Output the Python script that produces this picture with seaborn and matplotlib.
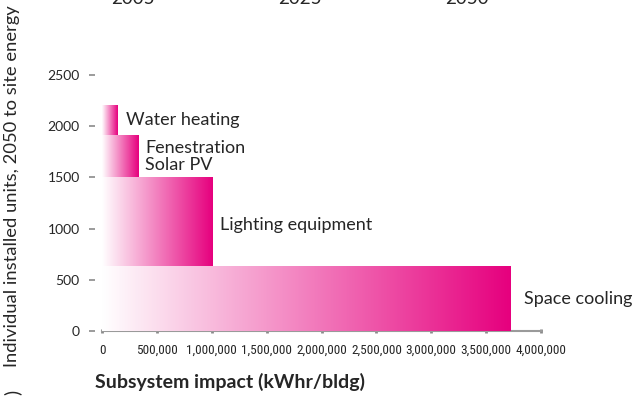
import numpy as np
import matplotlib.pyplot as plt
import seaborn as sns
from matplotlib.colors import LinearSegmentedColormap

# --------------------------
# DATA
# --------------------------
subsystems = ['Space cooling', 'Lighting equipment', 'Fenestration\nSolar PV', 'Water heating']
impact = [3720000, 1010000, 330000, 140000]      # kWhr/bldg
units = [630, 870, 410, 300]                      # installed units (stacked)
x_ticks = [0, 500000, 1000000, 1500000, 2000000, 2500000, 3000000, 3500000, 4000000]
y_ticks = [0, 500, 1000, 1500, 2000, 2500]
years = ['2005', '2025', '2050']

# --------------------------
# STYLE
# --------------------------
sns.set_style('white')
plt.rcParams['font.family'] = ['Lato', 'DejaVu Sans']
magenta = '#E6007E'
grad_cmap = LinearSegmentedColormap.from_list('wm', ['#ffffff', magenta])

fig = plt.figure(figsize=(6.4, 3.96), dpi=100)
ax = fig.add_axes([102 / 640, 65 / 396, 439 / 640, 256 / 396])

# --------------------------
# BARS (gradient filled)
# --------------------------
bottoms = np.concatenate([[0], np.cumsum(units)[:-1]])
gradient = np.linspace(0, 1, 256).reshape(1, -1)
for w, h, b in zip(impact, units, bottoms):
    bar = ax.bar(0, h, width=w, bottom=b, align='edge', color='none', linewidth=0)[0]
    im = ax.imshow(gradient, extent=[0, w, b, b + h], cmap=grad_cmap,
                   aspect='auto', interpolation='bicubic', zorder=2)
    im.set_clip_path(bar)

# labels right of each bar
offsets = [(10, 0), (5, -2), (5, 0), (6.5, 0)]
for name, w, h, b, off in zip(subsystems, impact, units, bottoms, offsets):
    ax.annotate(name, xy=(w, b + h / 2), xytext=off, textcoords='offset points',
                ha='left', va='center', fontsize=13, linespacing=1.1)

# --------------------------
# AXES
# --------------------------
ax.set_xlim(0, 4000000)
ax.set_ylim(0, 2500)
ax.set_xticks(x_ticks)
ax.set_xticklabels(['{:,}'.format(v) for v in x_ticks],
                   family=['Roboto Condensed', 'Liberation Sans Narrow', 'DejaVu Sans'],
                   stretch='condensed', fontsize=9.5)
ax.set_yticks(y_ticks)
ax.set_yticklabels([str(v) for v in y_ticks], fontsize=15)

for s in ['top', 'right']:
    ax.spines[s].set_visible(False)
ax.spines['left'].set_visible(False)
ax.spines['left'].set_position(('outward', 5))
ax.spines['bottom'].set_color('#9a9a9a')
ax.spines['bottom'].set_linewidth(1.5)
ax.spines['bottom'].set_zorder(1)

ax.tick_params(axis='y', length=4, width=1.2, color='#8a8a8a', pad=7, left=True)
ax.tick_params(axis='x', direction='inout', length=3, width=2, color='#8a8a8a', pad=8, bottom=True)

fig.text(95 / 640, 1 - 382 / 396, 'Subsystem impact (kWhr/bldg)',
         fontsize=14, fontweight='bold', ha='left', va='center')
fig.text(12 / 640, 1 - 367 / 396, 'Individual installed units, 2050 to site energy',
         rotation=90, fontsize=13.2, ha='center', va='bottom')
fig.text(12 / 640, 1 - 389 / 396, '(c)', rotation=90, fontsize=13.5, ha='center', va='top')

# year headers cut off at the top
for yr, xc in zip(years, [133, 300, 467]):
    fig.text(xc / 640, 1 - 4 / 396, yr, fontsize=13.5, ha='center', va='baseline')

fig.savefig('out.png', dpi=100)
